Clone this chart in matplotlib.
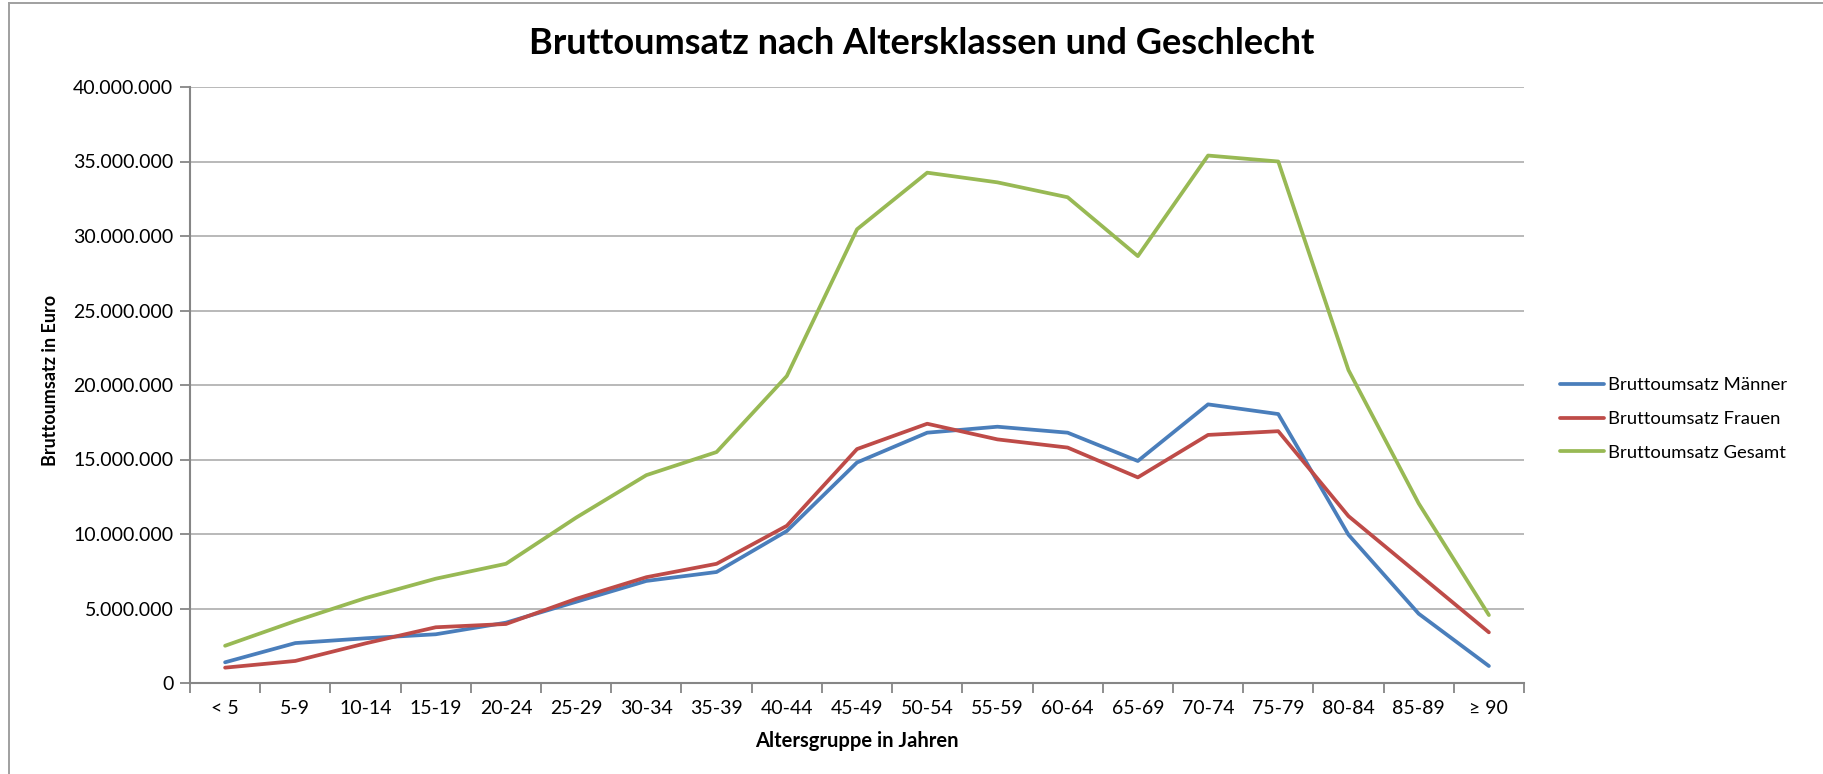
import numpy as np
import matplotlib
matplotlib.use("Agg")
import matplotlib.pyplot as plt
from matplotlib.lines import Line2D
from matplotlib.ticker import FuncFormatter

plt.rcParams['font.family'] = ['Lato', 'DejaVu Sans']

# Altersgruppen
age_groups = ['< 5', '5-9', '10-14', '15-19', '20-24', '25-29', '30-34', '35-39',
              '40-44', '45-49', '50-54', '55-59', '60-64', '65-69', '70-74',
              '75-79', '80-84', '85-89', '≥ 90']

# Bruttoumsatz in Euro
men = [1.39e6, 2.68e6, 3.0e6, 3.27e6, 4.05e6, 5.45e6, 6.85e6, 7.45e6, 10.2e6,
       14.8e6, 16.8e6, 17.2e6, 16.8e6, 14.9e6, 18.7e6, 18.05e6, 9.95e6, 4.65e6, 1.14e6]
women = [1.03e6, 1.48e6, 2.66e6, 3.74e6, 3.96e6, 5.65e6, 7.1e6, 8.0e6, 10.55e6,
         15.7e6, 17.4e6, 16.35e6, 15.8e6, 13.8e6, 16.65e6, 16.9e6, 11.2e6, 7.3e6, 3.4e6]
total = [2.5e6, 4.16e6, 5.7e6, 7.0e6, 8.0e6, 11.1e6, 13.95e6, 15.5e6, 20.6e6,
         30.45e6, 34.25e6, 33.6e6, 32.6e6, 28.65e6, 35.4e6, 35.0e6, 21.0e6, 12.05e6, 4.56e6]

series = [
    ('Bruttoumsatz Männer', men, '#4A7EBB'),
    ('Bruttoumsatz Frauen', women, '#BE4B48'),
    ('Bruttoumsatz Gesamt', total, '#98B954'),
]

W, H = 1823, 774
fig = plt.figure(figsize=(W / 100, H / 100), dpi=100)
ax = fig.add_axes([190 / W, 1 - 683 / H, (1524 - 190) / W, (683 - 87) / H])

x = np.arange(len(age_groups))
for name, vals, col in series:
    ax.plot(x, vals, color=col, lw=2.7, label=name, solid_capstyle='round')

ax.set_xlim(-0.5, len(age_groups) - 0.5)
ax.set_ylim(0, 40e6)
ax.set_yticks(np.arange(0, 40e6 + 1, 5e6))
ax.yaxis.set_major_formatter(FuncFormatter(lambda v, p: f"{int(v):,}".replace(',', '.')))
ax.grid(axis='y', color='#A6A6A6', lw=1.1)
ax.set_axisbelow(True)

# tick marks between categories, labels in the middle
ax.set_xticks(np.arange(-0.5, len(age_groups), 1))
ax.set_xticklabels([])
ax.set_xticks(x, minor=True)
ax.set_xticklabels(age_groups, minor=True)
ax.tick_params(axis='x', which='major', length=7, width=1.3, color='#868686', direction='out')
ax.tick_params(axis='x', which='minor', length=0, pad=12, labelsize=14)
ax.tick_params(axis='y', length=7, width=1.3, color='#868686', labelsize=14, pad=5)

for s in ['top', 'right']:
    ax.spines[s].set_visible(False)
for s in ['left', 'bottom']:
    ax.spines[s].set_color('#868686')
    ax.spines[s].set_linewidth(1.5)

fig.text(857 / W, 1 - 741 / H, 'Altersgruppe in Jahren', ha='center', va='center',
         fontsize=14.5, fontweight='bold')
fig.text(51 / W, 1 - 380 / H, 'Bruttoumsatz in Euro', ha='center', va='center',
         rotation=90, fontsize=13, fontweight='bold')
fig.text(922 / W, 1 - 43 / H, 'Bruttoumsatz nach Altersklassen und Geschlecht',
         ha='center', va='center', fontsize=26, fontweight='bold')

leg = fig.legend(loc='center left', bbox_to_anchor=(1543 / W, 1 - 419 / H), frameon=False,
                 fontsize=13.3, handlelength=2.4, handletextpad=0.2, labelspacing=0.95)

# chart border (only left and top visible in crop)
fig.add_artist(Line2D([8.5 / W, 8.5 / W], [0, 1 - 2.5 / H], color='#A0A0A0', lw=1.4))
fig.add_artist(Line2D([8.5 / W, 1], [1 - 2.5 / H, 1 - 2.5 / H], color='#A0A0A0', lw=1.4))

fig.savefig('out.png', dpi=100)
